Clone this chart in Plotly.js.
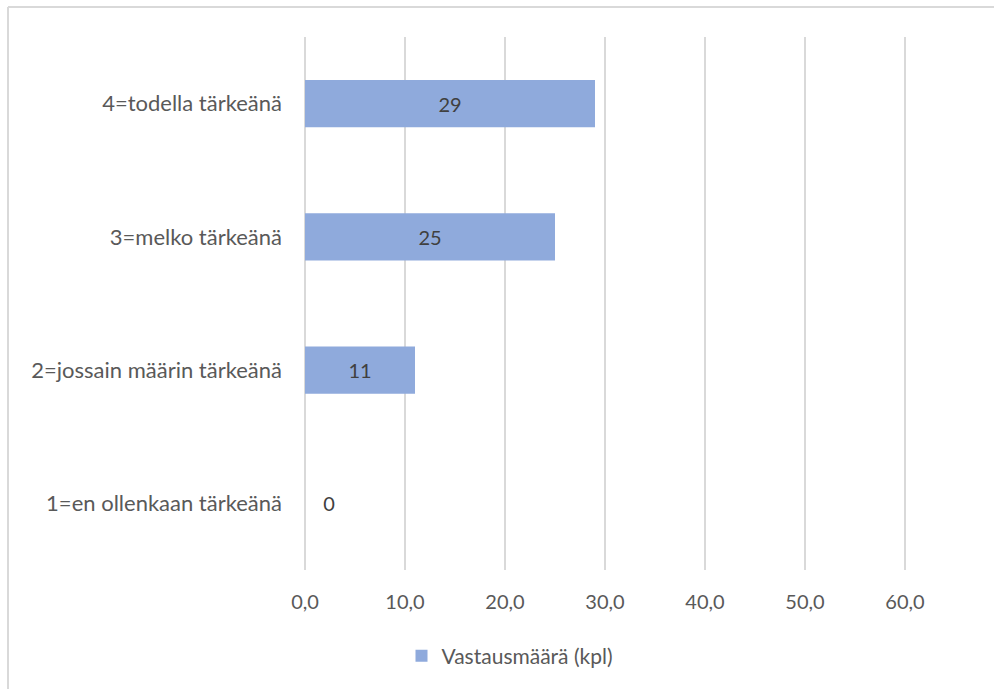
<!DOCTYPE html>
<html>
<head>
<meta charset="utf-8">
<script src="https://cdn.plot.ly/plotly-3.0.1.min.js"></script>
<style>
  html, body { margin: 0; padding: 0; background: #ffffff; }
  #chart { width: 994px; height: 689px; }
</style>
</head>
<body>
<div id="chart"></div>
<script>
// Response categories (bottom to top) and counts
const categories = [
  "1=en ollenkaan tärkeänä",
  "2=jossain määrin tärkeänä",
  "3=melko tärkeänä",
  "4=todella tärkeänä"
];
const counts = [0, 11, 25, 29];
const seriesName = "Vastausmäärä (kpl)";
const tickValues = [0, 10, 20, 30, 40, 50, 60];

const textColor = "#595959";
const fontFamily = "Lato, 'Open Sans', sans-serif";

const trace = {
  type: "bar",
  orientation: "h",
  name: seriesName,
  y: categories,
  x: counts,
  marker: { color: "#8faadc" },
  // zero-length bar gets its label just outside, padded from the axis
  text: counts.map(v => (v === 0 ? "\u00a0\u00a0\u00a0" + v : String(v))),
  textposition: counts.map(v => (v === 0 ? "outside" : "inside")),
  insidetextanchor: "middle",
  textfont: { family: fontFamily, size: 20, color: "#404040" },
  outsidetextfont: { family: fontFamily, size: 20, color: "#404040" },
  cliponaxis: false,
  hoverinfo: "none"
};

const gridColor = "#d9d9d9";
// plot area: x 305..907 (10 units = 100 px), y 37..570
const plotLeft = 305, plotWidth = 602, plotBottom = 570, plotHeight = 533;
const px = v => (v - plotLeft) / plotWidth;
const py = v => (plotBottom - v) / plotHeight;

const layout = {
  width: 994,
  height: 689,
  margin: { l: 305, r: 87, t: 37, b: 119 },
  paper_bgcolor: "#ffffff",
  plot_bgcolor: "#ffffff",
  separators: ", ",
  font: { family: fontFamily, size: 20, color: textColor },
  bargap: 0.647,
  showlegend: true,
  legend: {
    orientation: "h",
    x: px(510),
    xanchor: "center",
    y: py(656),
    yanchor: "middle",
    font: { family: fontFamily, size: 21, color: textColor }
  },
  xaxis: {
    range: [0, 60.2],
    tickvals: tickValues,
    tickformat: ".1f",
    showgrid: true,
    gridcolor: gridColor,
    gridwidth: 2,
    zeroline: true,
    zerolinecolor: gridColor,
    zerolinewidth: 2,
    showline: false,
    ticks: "",
    ticklabelstandoff: 18,
    tickfont: { family: fontFamily, size: 20, color: textColor },
    fixedrange: true
  },
  yaxis: {
    showgrid: false,
    zeroline: false,
    showline: false,
    ticks: "",
    ticklabelstandoff: 22,
    tickfont: { family: fontFamily, size: 22, color: textColor },
    fixedrange: true
  },
  shapes: [
    // outer frame of the chart area (left and top edges)
    { type: "line", xref: "paper", yref: "paper",
      x0: px(8), x1: px(8), y0: py(700), y1: py(7),
      line: { color: gridColor, width: 2 } },
    { type: "line", xref: "paper", yref: "paper",
      x0: px(8), x1: px(1000), y0: py(7), y1: py(7),
      line: { color: gridColor, width: 2 } }
  ]
};

Plotly.newPlot("chart", [trace], layout, { displayModeBar: false, staticPlot: true });
</script>
</body>
</html>
